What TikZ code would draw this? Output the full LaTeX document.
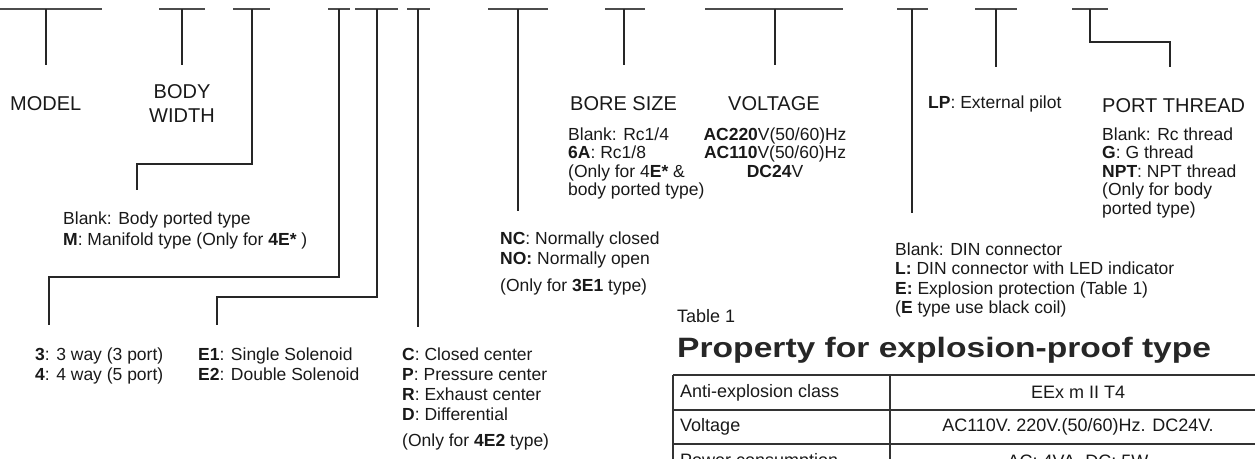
\documentclass[tikz,border=0pt]{standalone}
\usepackage{fontspec}
\setmainfont{Liberation Sans}
\newcommand\mylinesl[1]{\begin{tabular}[t]{@{}l@{}}#1\end{tabular}}
\newcommand\mylinesc[1]{\begin{tabular}[t]{@{}c@{}}#1\end{tabular}}
\begin{document}
\begin{tikzpicture}[x=1pt,y=-1pt,
  bar/.style={line width=1.1pt, draw=black!70},
  conn/.style={line width=1.3pt, draw=black!85},
  head/.style={font=\fontsize{20}{24}\selectfont, inner sep=0pt, text=black!90, anchor=base west},
  lbl/.style={font=\fontsize{17.5}{20}\selectfont, inner sep=0pt, text=black!90, anchor=base west},
  tbl/.style={font=\fontsize{18}{21}\selectfont, inner sep=0pt, text=black!90},
  ttl/.style={font=\fontsize{28}{30}\selectfont\bfseries, inner sep=0pt, text=black!85, anchor=base west},
  grid/.style={line width=1.2pt, draw=black!80},
]
\useasboundingbox (0,0) rectangle (1255,458);
\clip (0,0) rectangle (1255,458);

% ---- top bars and straight stems
\foreach \n/\l/\r/\x/\e in {1/0/102/46/65, 2/159/205/182/65, 8/605/645/624/65,
    9/705/843/775/65, 11/975/1017/996/67, 6/407/430/418/327, 7/488/548/518/211,
    10/897/928/912/213}{
  \coordinate (bl\n) at (\l,9);
  \coordinate (br\n) at (\r,9);
  \coordinate (s\n) at (\x,9);
  \coordinate (e\n) at (\x,\e);
  \draw[bar] (bl\n) -- (br\n);
  \draw[conn] (s\n) -- (e\n);
}
% ---- elbow stems
\foreach \n/\l/\r/\x/\kx/\ky/\e in {3/233/270/252/137/164/190, 4/328/350/339/49/277/325,
    5/355/398/377/217/297/325, 12/1072/1108/1090/1170/42/67}{
  \coordinate (bl\n) at (\l,9);
  \coordinate (br\n) at (\r,9);
  \coordinate (s\n) at (\x,9);
  \coordinate (k\n) at (\kx,\ky);
  \coordinate (e\n) at (\kx,\e);
  \draw[bar] (bl\n) -- (br\n);
  \draw[conn] (s\n) |- (k\n) -- (e\n);
}

% ---- headings
\node[head] (model) at (10,110) {MODEL};
\node[head, anchor=base, font=\fontsize{20}{24}\selectfont] (body) at (182,98) {\mylinesc{BODY\\WIDTH}};
\node[head] (bore) at (570,110) {BORE SIZE};
\node[head] (volt) at (728,110) {VOLTAGE};
\node[head] (port) at (1102,112) {PORT THREAD};

% ---- labels
\node[lbl, font=\fontsize{17.5}{21}\selectfont] (ported) at (63,224)
  {\mylinesl{Blank: Body ported type\\\textbf{M}: Manifold type (Only for \textbf{4E*} )}};
\node[lbl] (way) at (35,360)
  {\mylinesl{\textbf{3}: 3 way (3 port)\\\textbf{4}: 4 way (5 port)}};
\node[lbl] (sol) at (198,360)
  {\mylinesl{\textbf{E1}: Single Solenoid\\\textbf{E2}: Double Solenoid}};
\node[lbl] (ctr) at (402,360)
  {\mylinesl{\textbf{C}: Closed center\\\textbf{P}: Pressure center\\\textbf{R}: Exhaust center\\\textbf{D}: Differential}};
\node[lbl] (ctrnote) at (402,446) {(Only for \textbf{4E2} type)};
\node[lbl] (nc) at (500,244)
  {\mylinesl{\textbf{NC}: Normally closed\\\textbf{NO:} Normally open}};
\node[lbl] (ncnote) at (500,291) {(Only for \textbf{3E1} type)};
\node[lbl, font=\fontsize{17.5}{18.5}\selectfont] (borel) at (568,140)
  {\mylinesl{Blank: Rc1/4\\\textbf{6A}: Rc1/8\\(Only for 4\textbf{E*} \&\\body ported type)}};
\node[lbl, anchor=base, font=\fontsize{17.5}{18.5}\selectfont] (voltl) at (775,140)
  {\mylinesc{\textbf{AC220}V(50/60)Hz\\\textbf{AC110}V(50/60)Hz\\\textbf{DC24}V}};
\node[lbl] (lp) at (928,108) {\textbf{LP}: External pilot};
\node[lbl, font=\fontsize{17.5}{18.5}\selectfont] (portl) at (1102,140)
  {\mylinesl{Blank: Rc thread\\\textbf{G}: G thread\\\textbf{NPT}: NPT thread\\(Only for body\\ported type)}};
\node[lbl, font=\fontsize{17.5}{19.5}\selectfont] (din) at (895,255)
  {\mylinesl{Blank: DIN connector\\\textbf{L:} DIN connector with LED indicator\\\textbf{E:} Explosion protection (Table 1)\\(\textbf{E} type use black coil)}};

% ---- table
\node[lbl, font=\fontsize{18}{20}\selectfont] (tabno) at (677,322) {Table 1};
\node[ttl] (title) at (677,357) {\scalebox{1.2}[1]{Property for explosion-proof type}};
\coordinate (tl) at (673,375);
\coordinate (tr) at (1275,375);
\coordinate (r1l) at (673,410);
\coordinate (r1r) at (1275,410);
\coordinate (r2l) at (673,444);
\coordinate (r2r) at (1275,444);
\coordinate (bl) at (673,480);
\coordinate (dt) at (890,375);
\coordinate (db) at (890,480);
\draw[grid] (tl) -- (tr);
\draw[grid] (r1l) -- (r1r);
\draw[grid] (r2l) -- (r2r);
\draw[grid] (tl) -- (bl);
\draw[grid] (dt) -- (db);
\node[tbl, anchor=west] (c11) at (680,392.5) {Anti-explosion class};
\node[tbl] (c12) at (1078,392.5) {EEx m II T4};
\node[tbl, anchor=west] (c21) at (680,427) {Voltage};
\node[tbl] (c22) at (1078,427) {AC110V. 220V.(50/60)Hz. DC24V.};
\node[tbl, anchor=west] (c31) at (680,462) {Power consumption};
\node[tbl] (c32) at (1078,462) {AC: 4VA, DC: 5W};
\end{tikzpicture}
\end{document}
